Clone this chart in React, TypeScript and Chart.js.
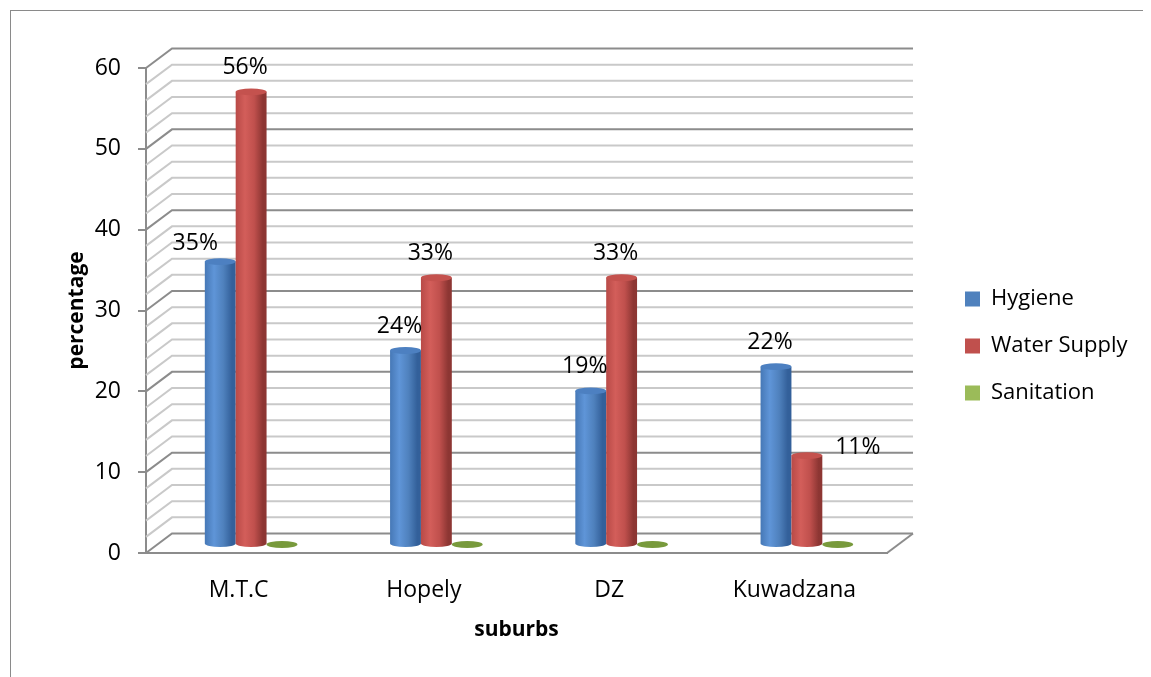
import { useEffect, useRef } from 'react';
import { Chart, registerables } from 'chart.js';

Chart.register(...registerables);

// ---- data ----
const categories = ['M.T.C', 'Hopely', 'DZ', 'Kuwadzana'];
const hygiene = [35, 24, 19, 22];
const waterSupply = [56, 33, 33, 11];
const sanitation = [0, 0, 0, 0];
const seriesNames = ['Hygiene', 'Water Supply', 'Sanitation'];
const yMin = 0;
const yMax = 60;
const yStep = 10;
const yMinorStep = 2;

// ---- layout / style ----
const W = 1143;
const H = 669;
const FONT = "'Open Sans', 'Noto Sans', sans-serif";
const AREA_LEFT = 138;
const AREA_RIGHT = 879;
const AREA_TOP = 60;
const AREA_BOTTOM = 545;
const DEPTH_X = 26;
const DEPTH_Y = 19.5;
const BAR_SHIFT_X = 12.5;
const BAR_SHIFT_Y = 8.5;
const LEGEND_LEFT = 932;
const LEGEND_TOP = 255;
const LABEL_DX = -6;
const LABEL_DY = -24;
const labelNudge: Record<string, [number, number]> = {
  '0-0': [-19, 6],
  '1-3': [57, 16],
};

const palette = [
  { base: '#4F81BD', light: '#5f95d8', edge: '#4678b6', dark: '#33609a', top: '#4d80c1' },
  { base: '#C0504D', light: '#d35e5a', edge: '#b84a47', dark: '#8d3633', top: '#c4524e' },
  { base: '#9BBB59', light: '#a9c76a', edge: '#8eae4f', dark: '#6b8a35', top: '#789a3c' },
];

function drawCylinder(ctx: CanvasRenderingContext2D, cx: number, top: number, bottom: number, w: number, c: any) {
  const rx = w / 2;
  const ry = Math.max(2.5, w * 0.11);
  ctx.save();
  if (bottom - top > 0.5) {
    const g = ctx.createLinearGradient(cx - rx, 0, cx + rx, 0);
    g.addColorStop(0, c.edge);
    g.addColorStop(0.3, c.light);
    g.addColorStop(0.6, c.base);
    g.addColorStop(0.88, c.dark);
    g.addColorStop(1, c.dark);
    ctx.beginPath();
    ctx.moveTo(cx - rx, top);
    ctx.lineTo(cx - rx, bottom);
    ctx.ellipse(cx, bottom, rx, ry, 0, Math.PI, 0, true);
    ctx.lineTo(cx + rx, top);
    ctx.closePath();
    ctx.fillStyle = g;
    ctx.fill();
  }
  ctx.beginPath();
  ctx.ellipse(cx, top, rx, ry, 0, 0, Math.PI * 2);
  ctx.fillStyle = c.top;
  ctx.fill();
  ctx.restore();
}

const depthPlugin = {
  id: 'depth3d',
  afterLayout(chart: any) {
    const lg = chart.legend;
    if (lg) {
      const w = lg.width;
      lg.left = LEGEND_LEFT;
      lg.right = LEGEND_LEFT + w;
      lg.top = LEGEND_TOP;
      lg.bottom = chart.height;
      lg.height = lg.bottom - lg.top;
    }
  },
  beforeDraw(chart: any) {
    const { ctx } = chart;
    ctx.save();
    ctx.fillStyle = '#ffffff';
    ctx.fillRect(0, 0, chart.width, chart.height);
    ctx.strokeStyle = '#8a8a8a';
    ctx.lineWidth = 1;
    ctx.strokeRect(2.5, 2.5, chart.width + 10, chart.height + 10);
    ctx.restore();
  },
  beforeDatasetsDraw(chart: any) {
    const { ctx, chartArea: a, scales } = chart;
    const y = scales.y;
    ctx.save();
    ctx.lineCap = 'butt';
    for (let v = yMin; v <= yMax; v += yMinorStep) {
      const py = y.getPixelForValue(v);
      const major = v % yStep === 0;
      ctx.strokeStyle = major ? '#8c8c8c' : '#c9c9c9';
      ctx.lineWidth = 2;
      ctx.beginPath();
      ctx.moveTo(a.left, py);
      ctx.lineTo(a.left + DEPTH_X, py - DEPTH_Y);
      ctx.lineTo(a.right + DEPTH_X, py - DEPTH_Y);
      ctx.stroke();
    }
    ctx.strokeStyle = '#8c8c8c';
    ctx.lineWidth = 2;
    ctx.beginPath();
    ctx.moveTo(a.right, a.bottom);
    ctx.lineTo(a.right + DEPTH_X, a.bottom - DEPTH_Y);
    ctx.stroke();
    ctx.restore();
  },
  beforeDatasetDraw() {
    return false;
  },
  afterDatasetsDraw(chart: any) {
    const { ctx } = chart;
    chart.data.datasets.forEach((ds: any, di: number) => {
      const meta = chart.getDatasetMeta(di);
      if (meta.hidden) return;
      meta.data.forEach((el: any) => {
        const { x, y, base, width } = el.getProps(['x', 'y', 'base', 'width'], true);
        drawCylinder(ctx, x + BAR_SHIFT_X, y - BAR_SHIFT_Y, base - BAR_SHIFT_Y, width, palette[di]);
      });
    });
    ctx.save();
    ctx.font = `23px ${FONT}`;
    ctx.fillStyle = '#000000';
    ctx.textAlign = 'center';
    ctx.textBaseline = 'middle';
    chart.data.datasets.forEach((ds: any, di: number) => {
      const meta = chart.getDatasetMeta(di);
      if (meta.hidden) return;
      meta.data.forEach((el: any, i: number) => {
        const v = ds.data[i];
        if (!(v > 0)) return;
        const { x, y } = el.getProps(['x', 'y'], true);
        const n = labelNudge[`${di}-${i}`] || [0, 0];
        ctx.fillText(`${v}%`, x + BAR_SHIFT_X + LABEL_DX + n[0], y - BAR_SHIFT_Y + LABEL_DY + n[1]);
      });
    });
    ctx.restore();
  },
};

export default function App() {
  const ref = useRef<HTMLCanvasElement | null>(null);
  useEffect(() => {
    if (!ref.current) return;
    document.documentElement.style.overflow = 'hidden';
    document.body.style.overflow = 'hidden';
    Chart.defaults.font.family = FONT;
    Chart.defaults.color = '#000000';
    const seriesData = [hygiene, waterSupply, sanitation];
    const chart = new Chart(ref.current, {
      type: 'bar',
      data: {
        labels: categories,
        datasets: seriesNames.map((name, i) => ({
          label: name,
          data: seriesData[i],
          backgroundColor: palette[i].base,
          borderWidth: 0,
          categoryPercentage: 0.5,
          barPercentage: 1,
          yAxisID: 'y',
          xAxisID: 'x',
        })),
      },
      options: {
        responsive: false,
        animation: false,
        devicePixelRatio: 1,
        layout: { padding: { top: AREA_TOP, left: 0, right: 0, bottom: 0 } },
        plugins: {
          legend: {
            position: 'right',
            align: 'start',
            labels: {
              boxWidth: 15,
              boxHeight: 15,
              padding: 25,
              color: '#000000',
              font: { family: FONT, size: 22 },
            },
          },
          tooltip: { enabled: false },
        },
        scales: {
          x: {
            grid: { display: false },
            border: { display: true, color: '#8c8c8c', width: 2 },
            ticks: { padding: 16, color: '#000000', font: { family: FONT, size: 23 } },
            title: {
              display: true,
              text: 'suburbs',
              color: '#000000',
              font: { family: FONT, size: 21, weight: 'bold' },
              padding: { top: 0, bottom: 34 },
            },
            afterFit: (s: any) => {
              s.height = H - AREA_BOTTOM;
            },
          },
          y: {
            min: yMin,
            max: yMax,
            ticks: { stepSize: yStep, padding: 17, color: '#000000', font: { family: FONT, size: 23 } },
            grid: { drawOnChartArea: false, drawTicks: true, tickLength: 8, color: '#8c8c8c', lineWidth: 2 },
            border: { display: true, color: '#8c8c8c', width: 2 },
            title: {
              display: true,
              text: 'percentage',
              color: '#000000',
              font: { family: FONT, size: 21, weight: 'bold' },
              padding: { top: 56, bottom: 0 },
            },
            afterFit: (s: any) => {
              s.width = AREA_LEFT;
            },
          },
          gap: {
            type: 'linear',
            position: 'right',
            display: true,
            grid: { display: false },
            border: { display: false },
            ticks: { display: false },
            afterFit: (s: any) => {
              const lw = s.chart.legend ? s.chart.legend.width : 0;
              s.width = Math.max(0, W - AREA_RIGHT - lw);
            },
          },
        },
      } as any,
      plugins: [depthPlugin as any],
    });
    return () => chart.destroy();
  }, []);
  return <canvas ref={ref} width={W} height={H} style={{ display: 'block' }} />;
}
